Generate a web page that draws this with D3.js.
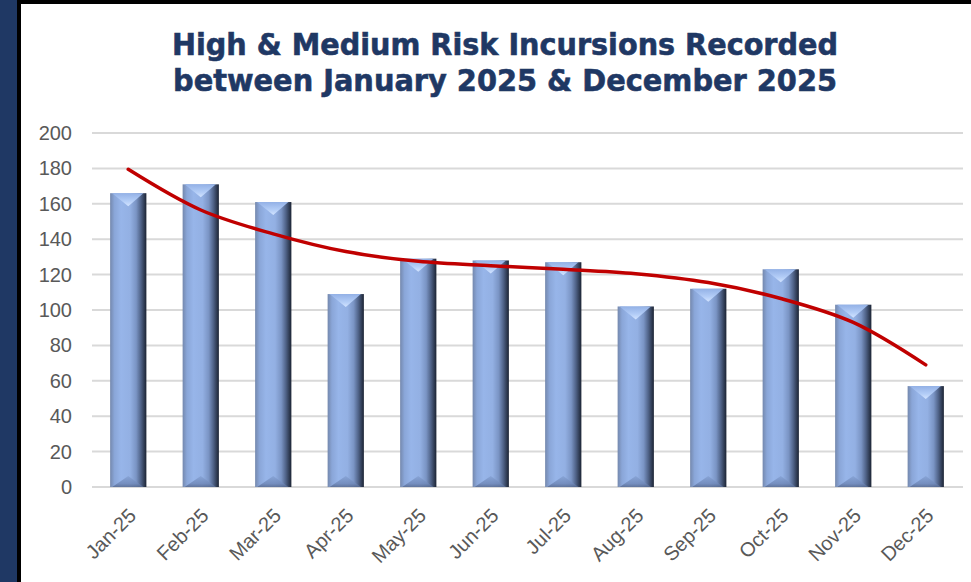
<!DOCTYPE html>
<html>
<head>
<meta charset="utf-8">
<script src="https://cdn.jsdelivr.net/npm/d3@7"></script>
<style>
  body { margin: 0; background: #fff; }
  svg { display: block; }
</style>
</head>
<body>
<div id="chart"></div>
<script>
// Chart data
const months = ["Jan-25", "Feb-25", "Mar-25", "Apr-25", "May-25", "Jun-25",
                "Jul-25", "Aug-25", "Sep-25", "Oct-25", "Nov-25", "Dec-25"];
const incursions = [166, 171, 161, 109, 129, 128, 127, 102, 112, 123, 103, 57];
// polynomial trend line as drawn in the reference
const trend = [179.5, 156.5, 143, 133, 127.5, 125, 123, 120.5, 115.5, 106.5, 93, 69];
const yTicks = [0, 20, 40, 60, 80, 100, 120, 140, 160, 180, 200];
const titleLines = ["High & Medium Risk Incursions Recorded",
                    "between January 2025 & December 2025"];

const width = 971;
const height = 582;

const svg = d3.select("#chart")
              .append("svg")
              .attr("width", width)
              .attr("height", height);

// gradients for the bevelled bars
const defs = svg.append("defs");
const side = defs.append("linearGradient").attr("id", "barSide")
                 .attr("x1", 0).attr("x2", 1).attr("y1", 0).attr("y2", 0);
[[0, "#7488ad"], [0.12, "#8aa6d8"], [0.3, "#97b5e9"], [0.55, "#93b0e3"],
 [0.72, "#7a94c4"], [0.85, "#4f6287"], [1, "#1b2333"]].forEach(s =>
  side.append("stop").attr("offset", s[0]).attr("stop-color", s[1]));

const topG = defs.append("linearGradient").attr("id", "barTop")
                 .attr("x1", 0).attr("x2", 0).attr("y1", 0).attr("y2", 1);
[[0, "#93b1e6"], [0.6, "#b3cdf7"], [1, "#d3e4ff"]].forEach(s =>
  topG.append("stop").attr("offset", s[0]).attr("stop-color", s[1]));

const botG = defs.append("linearGradient").attr("id", "barBottom")
                 .attr("x1", 0).attr("x2", 0).attr("y1", 0).attr("y2", 1);
[[0, "#86a2d4"], [0.7, "#6f88b8"], [1, "#56698f"]].forEach(s =>
  botG.append("stop").attr("offset", s[0]).attr("stop-color", s[1]));

// frame: navy band on the left, black rules
svg.append("rect").attr("x", 0).attr("y", 0).attr("width", 17).attr("height", height)
   .attr("fill", "#1f3864");
svg.append("rect").attr("x", 17).attr("y", 0).attr("width", 4).attr("height", height)
   .attr("fill", "#000");
svg.append("rect").attr("x", 17).attr("y", 0).attr("width", width - 17).attr("height", 4)
   .attr("fill", "#000");

// Title
svg.selectAll(".title")
   .data(titleLines)
   .enter()
   .append("text")
   .attr("class", "title")
   .attr("x", 505)
   .attr("y", (d, i) => 55 + i * 36)
   .attr("text-anchor", "middle")
   .attr("textLength", (d, i) => i === 0 ? 666 : 664)
   .attr("lengthAdjust", "spacingAndGlyphs")
   .style("font-family", "'DejaVu Sans', Verdana, sans-serif")
   .style("font-weight", "bold")
   .style("font-size", "30px")
   .attr("fill", "#1f3864")
   .attr("stroke", "#1f3864")
   .attr("stroke-width", 0.6)
   .text(d => d);

// Scales
const xScale = d3.scaleBand()
                 .domain(months)
                 .range([92, 962])
                 .paddingInner(0.5)
                 .paddingOuter(0.25);

const yScale = d3.scaleLinear()
                 .domain([0, 200])
                 .range([487, 133]);

// Gridlines
svg.append("g")
   .attr("class", "grid")
   .selectAll("line")
   .data(yTicks)
   .enter()
   .append("line")
   .attr("x1", 92)
   .attr("x2", 963)
   .attr("y1", d => yScale(d))
   .attr("y2", d => yScale(d))
   .attr("stroke", "#d9d9d9")
   .attr("stroke-width", 2);

// Y axis
const yAxis = svg.append("g")
   .attr("class", "y-axis")
   .attr("transform", "translate(80,0)")
   .call(d3.axisLeft(yScale).tickValues(yTicks).tickSize(0).tickPadding(8));
yAxis.select(".domain").remove();
yAxis.selectAll("text")
   .style("font-family", "'Liberation Sans', Arial, sans-serif")
   .style("font-size", "20px")
   .attr("fill", "#595959");

// X axis labels
const xAxis = svg.append("g")
   .attr("class", "x-axis")
   .attr("transform", "translate(0,487)")
   .call(d3.axisBottom(xScale).tickSize(0).tickFormat(d => d));
xAxis.select(".domain").remove();
xAxis.selectAll("text")
   .attr("y", 0)
   .attr("dy", 0)
   .attr("transform", "translate(9,30) rotate(-45)")
   .style("text-anchor", "end")
   .style("font-family", "'Liberation Sans', Arial, sans-serif")
   .style("font-size", "20px")
   .attr("fill", "#595959");

// Bars
const bw = xScale.bandwidth();
const bevel = 13;
const bars = svg.selectAll(".bar")
   .data(months.map((m, i) => ({ month: m, value: incursions[i] })))
   .enter()
   .append("g")
   .attr("class", "bar");

bars.append("rect")
   .attr("x", d => xScale(d.month))
   .attr("y", d => yScale(d.value))
   .attr("width", bw)
   .attr("height", d => yScale(0) - yScale(d.value))
   .attr("fill", "url(#barSide)");

// top bevel (V shaped highlight)
bars.append("path")
   .attr("d", d => {
     const x0 = xScale(d.month), y0 = yScale(d.value);
     return `M${x0 + 2},${y0}L${x0 + bw - 3},${y0}L${x0 + bw / 2},${y0 + bevel}Z`;
   })
   .attr("fill", "url(#barTop)");

// bottom bevel
bars.append("path")
   .attr("d", d => {
     const x0 = xScale(d.month), y0 = yScale(0);
     return `M${x0 + 2},${y0}L${x0 + bw - 3},${y0}L${x0 + bw / 2},${y0 - bevel + 2}Z`;
   })
   .attr("fill", "url(#barBottom)")
   .attr("opacity", 0.85);

// Trend line
const line = d3.line()
   .x((d, i) => xScale(months[i]) + bw / 2)
   .y(d => yScale(d))
   .curve(d3.curveCatmullRom);

svg.append("path")
   .datum(trend)
   .attr("d", line)
   .attr("fill", "none")
   .attr("stroke", "#c00000")
   .attr("stroke-width", 3.5)
   .attr("stroke-linecap", "round");
</script>
</body>
</html>
